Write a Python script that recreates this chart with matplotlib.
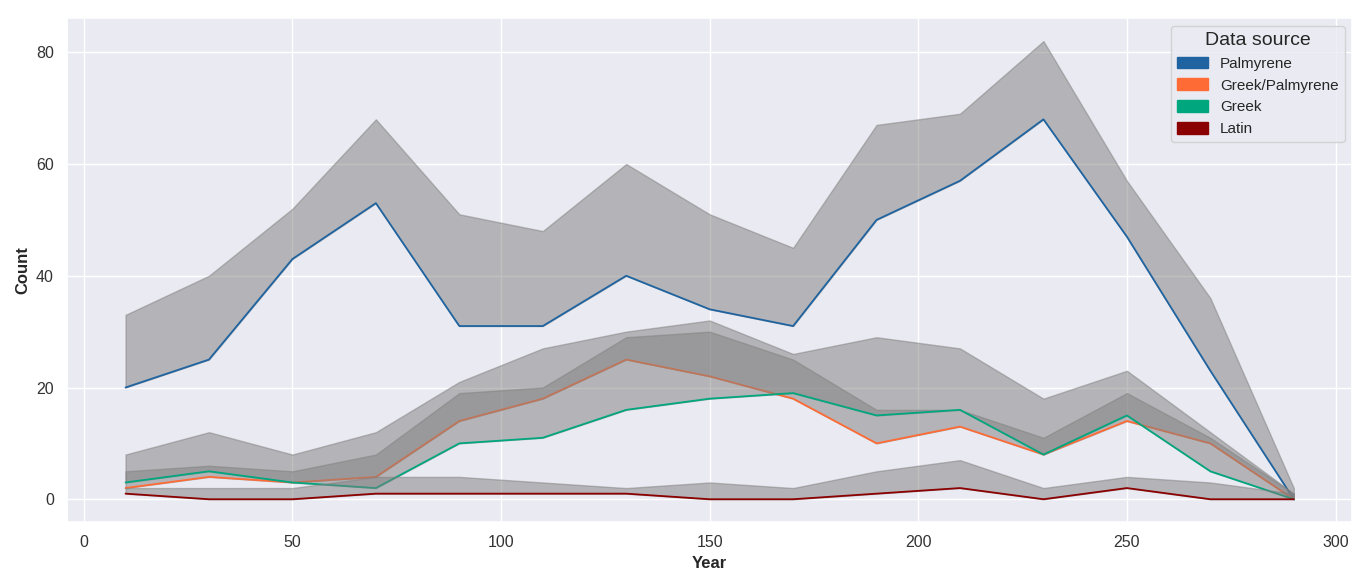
import numpy as np
import matplotlib
matplotlib.use("Agg")
import matplotlib.pyplot as plt
import seaborn as sns
from matplotlib.patches import Patch

# year bins (midpoints)
years = [10, 30, 50, 70, 90, 110, 130, 150, 170, 190, 210, 230, 250, 270, 290]

# lower value (line) and upper bound of the shaded range per data source
palm_low = [20, 25, 43, 53, 31, 31, 40, 34, 31, 50, 57, 68, 47, 23, 0]
palm_high = [33, 40, 52, 68, 51, 48, 60, 51, 45, 67, 69, 82, 57, 36, 2]

grpa_low = [2, 4, 3, 4, 14, 18, 25, 22, 18, 10, 13, 8, 14, 10, 0]
grpa_high = [8, 12, 8, 12, 21, 27, 30, 32, 26, 29, 27, 18, 23, 12, 1]

greek_low = [3, 5, 3, 2, 10, 11, 16, 18, 19, 15, 16, 8, 15, 5, 0]
greek_high = [5, 6, 5, 8, 19, 20, 29, 30, 25, 16, 16, 11, 19, 11, 1]

latin_low = [1, 0, 0, 1, 1, 1, 1, 0, 0, 1, 2, 0, 2, 0, 0]
latin_high = [2, 2, 2, 4, 4, 3, 2, 3, 2, 5, 7, 2, 4, 3, 1]

sources = ["Palmyrene", "Greek/Palmyrene", "Greek", "Latin"]
colors = ["#1f64a0", "#ff6b35", "#00a67e", "#8b0000"]

sns.set_theme(style="darkgrid")
plt.rcParams["font.family"] = ["Liberation Sans", "DejaVu Sans"]

fig, ax = plt.subplots(figsize=(13.7, 5.88), dpi=100)
fig.subplots_adjust(left=0.049, right=0.987, top=0.969, bottom=0.112)

series = [(palm_low, palm_high), (grpa_low, grpa_high),
          (greek_low, greek_high), (latin_low, latin_high)]
for (low, high), c in zip(series, colors):
    # band first, then its own line on top; later bands cover earlier lines
    ax.fill_between(years, low, high, color="gray", alpha=0.5, zorder=2)
    ax.plot(years, low, color=c, linewidth=1.3, zorder=2)

ax.set_xticks([0, 50, 100, 150, 200, 250, 300])
ax.set_yticks([0, 20, 40, 60, 80])
ax.tick_params(labelsize=11.5, labelcolor="#333333")
ax.set_xlabel("Year", fontsize=12, fontweight="bold", labelpad=4)
ax.set_ylabel("Count", fontsize=12, fontweight="bold")

handles = [Patch(facecolor=c, edgecolor=c) for c in colors]
leg = ax.legend(handles, sources, title="Data source", loc="upper right",
                fontsize=11, title_fontsize=14, handleheight=0.8,
                labelspacing=0.5)

fig.savefig("out.png", dpi=100)
